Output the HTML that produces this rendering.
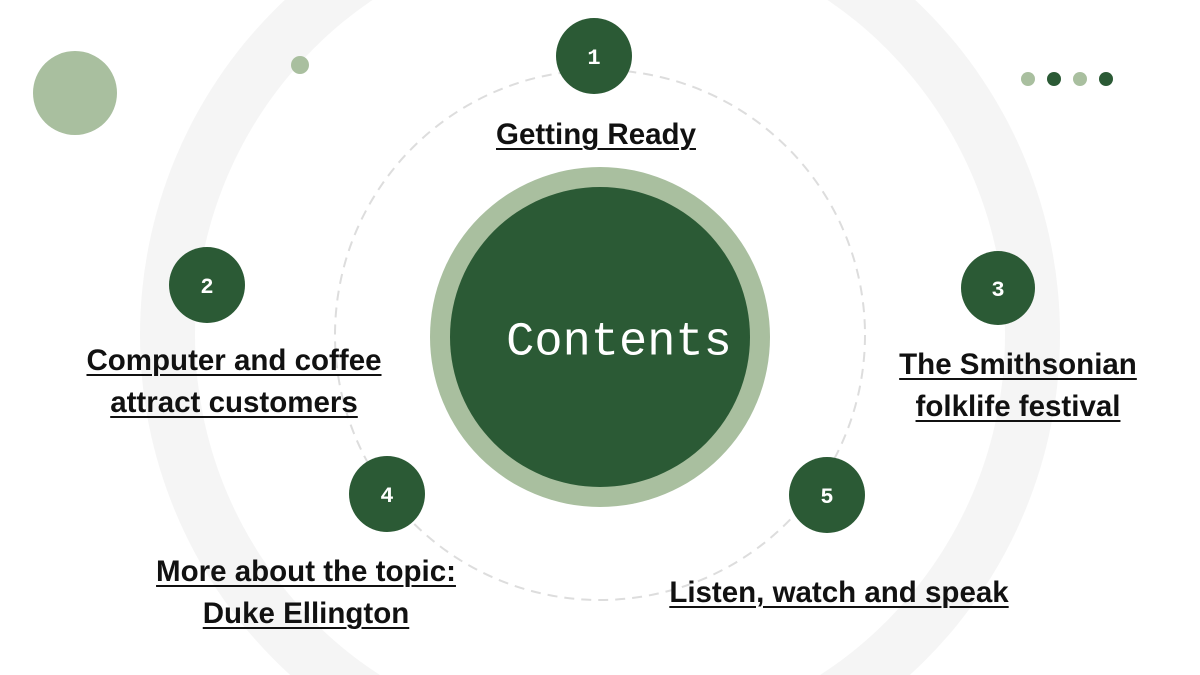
<!DOCTYPE html>
<html><head><meta charset="utf-8"><style>
html,body{margin:0;width:1200px;height:675px;overflow:hidden;background:#fff;font-family:"Liberation Sans",Arial,sans-serif;}
.l{position:absolute;font-weight:bold;font-size:29.5px;color:#111;text-align:center;line-height:42px;white-space:nowrap;}
.l span{text-decoration:underline;text-underline-offset:4px;text-decoration-thickness:2px;}
</style></head><body>
<svg width="1200" height="675" style="position:absolute;left:0;top:0;overflow:hidden">
<circle cx="600" cy="335" r="460" fill="#f5f5f5"/>
<circle cx="600" cy="335" r="405" fill="#fff"/>
<circle cx="600" cy="335" r="265" fill="none" stroke="#ddd" stroke-width="2" stroke-dasharray="10 7"/>
<circle cx="600" cy="337" r="170" fill="#a9bf9f"/>
<circle cx="600" cy="337" r="150" fill="#2b5a35"/>
<text x="619" y="342" fill="#fff" font-family="Liberation Mono, DejaVu Sans Mono, monospace" font-size="47" text-anchor="middle" dominant-baseline="middle">Contents</text>
<circle cx="75" cy="93" r="42" fill="#a9bf9f"/>
<circle cx="300" cy="65" r="9" fill="#a9bf9f"/>
<circle cx="1028" cy="79" r="7" fill="#a9bf9f"/>
<circle cx="1054" cy="79" r="7" fill="#2b5a35"/>
<circle cx="1080" cy="79" r="7" fill="#a9bf9f"/>
<circle cx="1106" cy="79" r="7" fill="#2b5a35"/>
<g fill="#2b5a35">
<circle cx="594" cy="56" r="38"/><circle cx="207" cy="285" r="38"/><circle cx="998" cy="288" r="37"/><circle cx="387" cy="494" r="38"/><circle cx="827" cy="495" r="38"/>
</g>
<g fill="#fff" font-family="Liberation Mono, monospace" font-weight="bold" font-size="22" text-anchor="middle">
<text x="594" y="64">1</text><text x="207" y="293">2</text><text x="998" y="296">3</text><text x="387" y="502">4</text><text x="827" y="503">5</text>
</g>
</svg>
<div class="l" style="left:446px;top:114px;width:300px"><span>Getting Ready</span></div>
<div class="l" style="left:34px;top:340px;width:400px"><span>Computer and coffee</span><br><span>attract customers</span></div>
<div class="l" style="left:868px;top:344px;width:300px"><span>The Smithsonian</span><br><span>folklife festival</span></div>
<div class="l" style="left:106px;top:551px;width:400px"><span>More about the topic:</span><br><span>Duke Ellington</span></div>
<div class="l" style="left:639px;top:572px;width:400px"><span>Listen, watch and speak</span></div>
</body></html>
